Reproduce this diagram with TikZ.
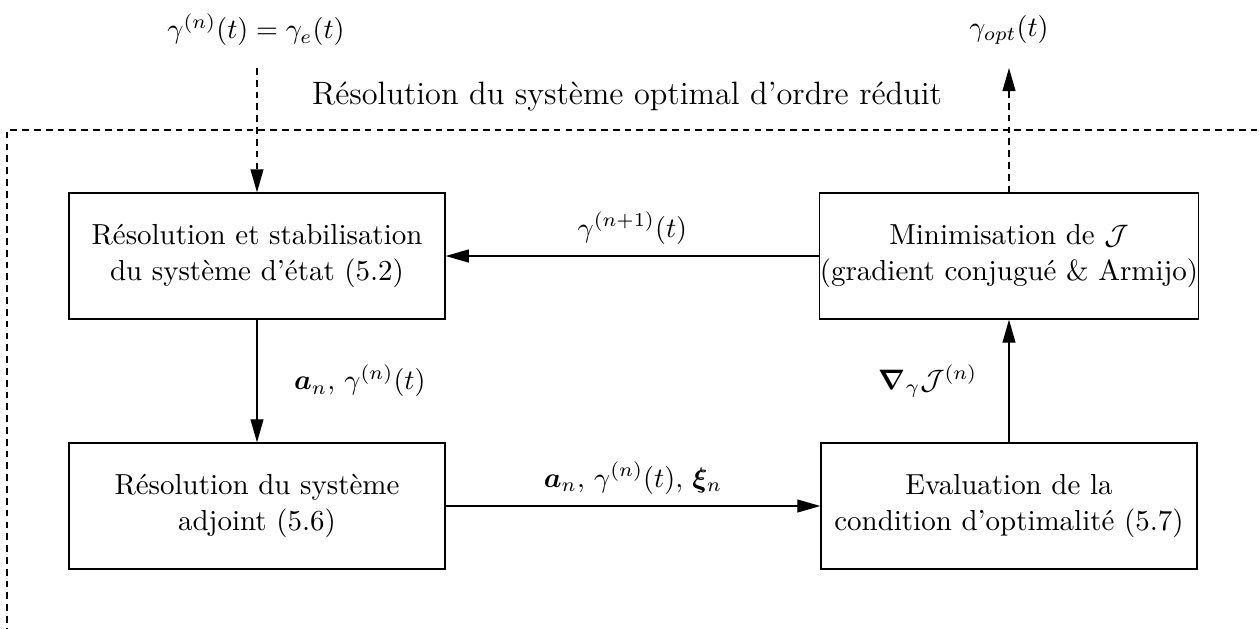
\documentclass[tikz,border=0pt]{standalone}
\usepackage{amsmath,amssymb,bm}
\usetikzlibrary{arrows.meta}
\begin{document}
\begin{tikzpicture}[x=0.0125cm,y=-0.0125cm,
  every node/.style={font=\fontsize{10.3}{12.6}\selectfont},
  blockbox/.style={draw,line width=0.45pt,minimum width=4.7cm,minimum height=1.575cm,inner sep=0pt,align=center},
  flow/.style={line width=0.45pt,-{Triangle[length=8.2pt,width=4.6pt]}},
  dashflow/.style={flow,dash pattern=on 2.4pt off 1.8pt},
  lbl/.style={inner sep=1pt}]
  \useasboundingbox (0,0) rectangle (1259,628);
  % outer dashed frame, running past the page edges
  \draw[line width=0.45pt,dash pattern=on 2.4pt off 1.8pt] (1300,700) -- (7,700) -- (7,130) -- (1300,130);
  \node[lbl,font=\fontsize{11.5}{14}\selectfont] (title) at (627,97) {Résolution du système optimal d'ordre réduit};

  % blocks
  \node[blockbox] (etat) at (257,256) {Résolution et stabilisation\\du système d'état (5.2)};
  \node[blockbox] (adj) at (257,506) {Résolution du système\\adjoint (5.6)};
  \node[blockbox] (mini) at (1009,256) {Minimisation de $\mathcal{J}$\\(gradient conjugué \& Armijo)};
  \node[blockbox] (eval) at (1009,506) {Evaluation de la\\condition d'optimalité (5.7)};

  % input and output
  \node[lbl] (gin) at (256,30) {$\gamma^{(n)}(t)=\gamma_e(t)$};
  \node[lbl] (gout) at (1009,30) {$\gamma_{opt}(t)$};
  \coordinate (inpt) at (257,68);
  \coordinate (outpt) at (1009,68);
  \draw[dashflow] (inpt) -- (etat.north);
  \draw[dashflow] (mini.north) -- (outpt);

  % loop connectors
  \draw[flow] (etat.south) -- node[lbl,right=12pt] {$\bm{a}_n,\,\gamma^{(n)}(t)$} (adj.north);
  \draw[flow] (adj.east) -- node[lbl,above=3pt] {$\bm{a}_n,\,\gamma^{(n)}(t),\,\bm{\xi}_n$} (eval.west);
  \draw[flow] (eval.north) -- node[lbl,left=10pt] {$\bm{\nabla}_{\gamma}\mathcal{J}^{(n)}$} (mini.south);
  \draw[flow] (mini.west) -- node[lbl,above=3pt] {$\gamma^{(n+1)}(t)$} (etat.east);
\end{tikzpicture}
\end{document}
